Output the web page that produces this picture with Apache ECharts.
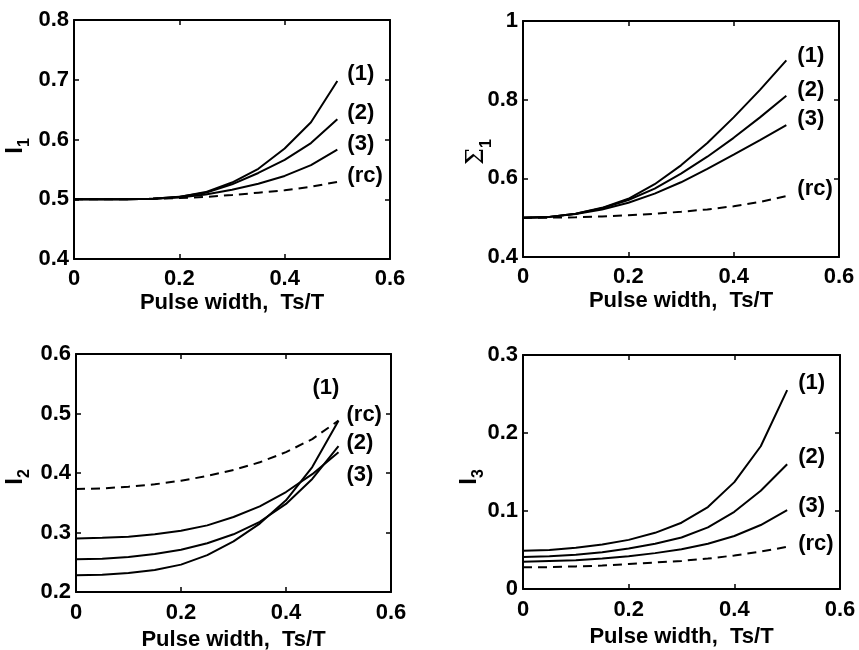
<!DOCTYPE html>
<html><head><meta charset="utf-8">
<script src="https://cdn.jsdelivr.net/npm/echarts@6/dist/echarts.min.js"></script>
<style>html,body{margin:0;padding:0;background:#fff}#c{width:859px;height:650px}</style>
</head><body><div id="c"></div>
<script>
// x values (pulse width Ts/T)
var xs = [0, 0.05, 0.1, 0.15, 0.2, 0.25, 0.3, 0.35, 0.4, 0.45, 0.5];

// Panel 1: I1
var p1_c1 = [0.5, 0.5, 0.5, 0.501, 0.504, 0.512, 0.528, 0.551, 0.585, 0.629, 0.698];
var p1_c2 = [0.5, 0.5, 0.5, 0.501, 0.504, 0.511, 0.525, 0.544, 0.566, 0.594, 0.634];
var p1_c3 = [0.5, 0.5, 0.5, 0.501, 0.503, 0.508, 0.516, 0.526, 0.539, 0.557, 0.583];
var p1_rc = [0.5, 0.5, 0.5, 0.501, 0.502, 0.504, 0.507, 0.511, 0.515, 0.521, 0.529];

// Panel 2: Sigma1
var p2_c1 = [0.5, 0.502, 0.51, 0.525, 0.548, 0.585, 0.633, 0.69, 0.755, 0.825, 0.9];
var p2_c2 = [0.5, 0.502, 0.51, 0.524, 0.545, 0.574, 0.612, 0.655, 0.703, 0.755, 0.81];
var p2_c3 = [0.5, 0.502, 0.509, 0.521, 0.538, 0.561, 0.59, 0.624, 0.66, 0.697, 0.735];
var p2_rc = [0.5, 0.5, 0.501, 0.503, 0.506, 0.51, 0.515, 0.521, 0.529, 0.54, 0.555];

// Panel 3: I2
var p3_c1 = [0.228, 0.229, 0.232, 0.237, 0.246, 0.262, 0.285, 0.315, 0.354, 0.41, 0.488];
var p3_c2 = [0.255, 0.256, 0.259, 0.264, 0.271, 0.282, 0.297, 0.318, 0.348, 0.39, 0.445];
var p3_c3 = [0.29, 0.291, 0.293, 0.297, 0.303, 0.312, 0.326, 0.344, 0.368, 0.398, 0.435];
var p3_rc = [0.373, 0.374, 0.377, 0.381, 0.387, 0.395, 0.405, 0.418, 0.435, 0.457, 0.488];

// Panel 4: I3
var p4_c1 = [0.049, 0.05, 0.053, 0.057, 0.063, 0.072, 0.085, 0.105, 0.137, 0.183, 0.255];
var p4_c2 = [0.041, 0.042, 0.044, 0.047, 0.052, 0.058, 0.066, 0.079, 0.099, 0.126, 0.16];
var p4_c3 = [0.035, 0.036, 0.037, 0.039, 0.042, 0.046, 0.051, 0.058, 0.068, 0.082, 0.101];
var p4_rc = [0.028, 0.028, 0.029, 0.03, 0.032, 0.034, 0.036, 0.039, 0.043, 0.048, 0.054];

var curveLabels = ['(1)', '(2)', '(3)', '(rc)'];
var xName = 'Pulse width,  Ts/T';
var xTicks = {min: 0, max: 0.6, interval: 0.2};
var yRanges = [
  {min: 0.4, max: 0.8, interval: 0.1},
  {min: 0.4, max: 1, interval: 0.2},
  {min: 0.2, max: 0.6, interval: 0.1},
  {min: 0, max: 0.3, interval: 0.1}
];
var yNames = [['I', '1'], ['Σ', '1'], ['I', '2'], ['I', '3']];
var panels = [
  [p1_c1, p1_c2, p1_c3, p1_rc],
  [p2_c1, p2_c2, p2_c3, p2_rc],
  [p3_c1, p3_c2, p3_c3, p3_rc],
  [p4_c1, p4_c2, p4_c3, p4_rc]
];

// layout / style
var FONT = 'Liberation Sans, Arial, sans-serif';
var FS = 22;
var grids = [
  {left: 74, top: 20, width: 316, height: 239, outerBoundsMode: 'none', containLabel: false},
  {left: 523, top: 21, width: 316, height: 236, outerBoundsMode: 'none', containLabel: false},
  {left: 76, top: 354, width: 315, height: 238, outerBoundsMode: 'none', containLabel: false},
  {left: 523, top: 355, width: 317, height: 234, outerBoundsMode: 'none', containLabel: false}
];
var yNamePos = [[15, 146], [477, 152], [15, 477], [469, 477]];
var xNameGap = [33, 33, 37, 37];
var xLabelMargin = [9, 9, 10, 10];
var labelOffsets = [
  [[4, -7], [4, -6], [4, -6], [4, -6]],
  [[5, -4], [5, -6], [5, -6], [5, -7]],
  [[-32, -33], [2, -3], [2, 23], [2, -6]],
  [[5, -7], [5, -7], [5, -4], [5, -3]]
];

var xAxes = [], yAxes = [], series = [], graphics = [];
var tickStyle = {show: true, inside: true, length: 5, lineStyle: {color: '#000', width: 1.5}};
var lineAx = {show: true, onZero: false, lineStyle: {color: '#000', width: 2}};
var labStyle = {color: '#000', fontSize: FS, fontWeight: 'bold', fontFamily: FONT};

for (var i = 0; i < 4; i++) {
  xAxes.push({
    type: 'value', gridIndex: i, position: 'bottom', min: xTicks.min, max: xTicks.max, interval: xTicks.interval,
    axisLine: lineAx, axisTick: tickStyle, splitLine: {show: false},
    axisLabel: Object.assign({margin: xLabelMargin[i]}, labStyle),
    name: xName, nameLocation: 'middle', nameGap: xNameGap[i], nameMoveOverlap: false,
    nameTextStyle: {color: '#000', fontSize: FS, fontWeight: 'bold', fontFamily: FONT}
  });
  xAxes.push({
    type: 'value', gridIndex: i, position: 'top', min: xTicks.min, max: xTicks.max, interval: xTicks.interval,
    axisLine: lineAx, axisTick: tickStyle, splitLine: {show: false}, axisLabel: {show: false}
  });
  var yr = yRanges[i];
  yAxes.push({
    type: 'value', gridIndex: i, position: 'left', min: yr.min, max: yr.max, interval: yr.interval,
    axisLine: lineAx, axisTick: tickStyle, splitLine: {show: false},
    axisLabel: Object.assign({margin: 5}, labStyle)
  });
  yAxes.push({
    type: 'value', gridIndex: i, position: 'right', min: yr.min, max: yr.max, interval: yr.interval,
    axisLine: lineAx, axisTick: tickStyle, splitLine: {show: false}, axisLabel: {show: false}
  });
  // y-axis title (rotated, with subscript)
  graphics.push({
    type: 'text', x: yNamePos[i][0], y: yNamePos[i][1], rotation: Math.PI / 2, silent: true,
    style: {
      text: '{a|' + yNames[i][0] + '}{b|' + yNames[i][1] + '}',
      align: 'center', verticalAlign: 'middle', fill: '#000',
      rich: {
        a: {fontSize: 24, fontFamily: i === 1 ? 'DejaVu Serif, serif' : FONT, fontWeight: i === 1 ? 'normal' : 'bold', fill: '#000', lineHeight: 28},
        b: {fontSize: 16, fontFamily: FONT, fontWeight: 'bold', fill: '#000', verticalAlign: 'bottom', lineHeight: 36}
      }
    }
  });
  for (var k = 0; k < 4; k++) {
    var vals = panels[i][k];
    var data = [];
    for (var j = 0; j < xs.length; j++) data.push([xs[j], vals[j]]);
    series.push({
      type: 'line', xAxisIndex: 2 * i, yAxisIndex: 2 * i, data: data,
      showSymbol: false, symbol: 'none', animation: false, silent: true,
      lineStyle: {color: '#000', width: 2, type: k === 3 ? [9, 6] : 'solid'},
      endLabel: {
        show: true, formatter: curveLabels[k], offset: labelOffsets[i][k], distance: 6,
        color: '#000', fontSize: FS, fontWeight: 'bold', fontFamily: FONT
      }
    });
  }
}

var chart = echarts.init(document.getElementById('c'), null, {renderer: 'canvas'});
chart.setOption({
  backgroundColor: '#fff',
  animation: false,
  grid: grids,
  xAxis: xAxes,
  yAxis: yAxes,
  series: series,
  graphic: graphics
});
</script>
</body></html>
